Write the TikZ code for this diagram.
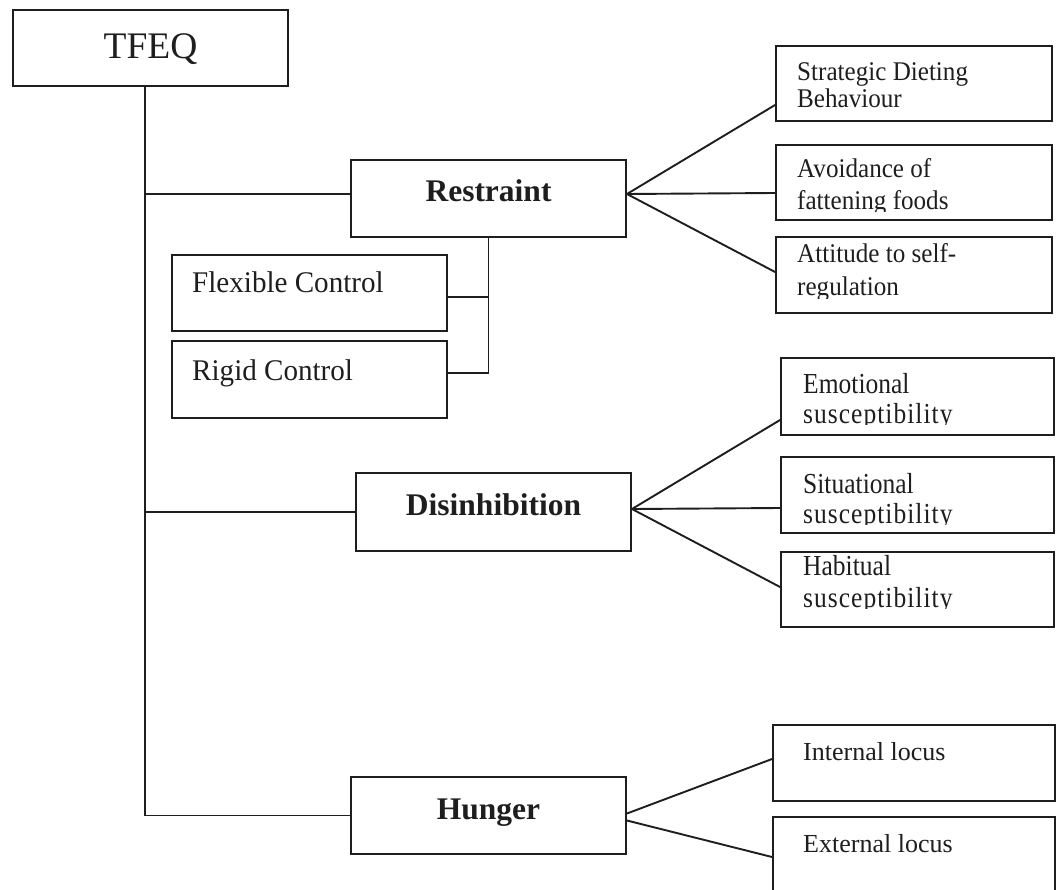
\documentclass[tikz,border=0pt]{standalone}
\usepackage{fontspec}
\setmainfont{Liberation Serif}
\newfontfamily\condA[FakeStretch=0.88]{Liberation Serif}
\newfontfamily\condS[FakeStretch=0.88,LetterSpace=3.5]{Liberation Serif}
\newfontfamily\condC[FakeStretch=0.93]{Liberation Serif}
\newfontfamily\condB[FakeStretch=0.97]{Liberation Serif}
\definecolor{ink}{HTML}{1E1E1E}
\begin{document}
\begin{tikzpicture}[x=1pt, y=-1pt,
  box/.style={draw=ink, line width=1.9pt, inner sep=0pt},
  conn/.style={draw=ink, line width=1.9pt},
  bl/.style={box, font=\fontsize{31.5}{36}\selectfont\bfseries, text=ink, text height=21pt, text depth=14pt},
  lbl/.style={anchor=base west, inner sep=0pt, text=ink},
  ra/.style={lbl, font=\condC\fontsize{27}{28}\selectfont},
  re/.style={lbl, font=\condA\fontsize{29}{30}\selectfont},
  rs/.style={lbl, font=\condS\fontsize{29}{30}\selectfont},
  rf/.style={lbl, font=\condB\fontsize{30}{31}\selectfont},
  rh/.style={lbl, font=\fontsize{26}{28}\selectfont}
]
\useasboundingbox (0,0) rectangle (1056,890);
\clip (0,0) rectangle (1056,890);

% main boxes
\node[box, minimum width=275pt, minimum height=76pt,
      font=\fontsize{37.5}{40}\selectfont, text=ink, text height=25pt, text depth=4pt]
      (T) at (150.5,48) {TFEQ};
\node[bl, minimum width=275pt, minimum height=77pt] (R) at (488.5,198.5) {Restraint};
\node[bl, minimum width=275pt, minimum height=78pt] (D) at (493.5,512) {Disinhibition};
\node[bl, minimum width=275pt, minimum height=77pt] (H) at (488.5,815.5) {Hunger};

% control boxes
\node[box, minimum width=275pt, minimum height=76pt] (F) at (309.5,293) {};
\node[box, minimum width=275pt, minimum height=77pt] (Rg) at (309.5,379.5) {};
\node[rf] (Ft) at (192,293) {Flexible Control};
\node[rf] (Rgt) at (192,380) {Rigid Control};

% restraint sub-boxes
\node[box, minimum width=276pt, minimum height=75pt] (S1) at (914,83.5) {};
\node[box, minimum width=276pt, minimum height=75pt] (S2) at (914,182.5) {};
\node[box, minimum width=276pt, minimum height=76pt] (S3) at (914,275) {};
\node[ra] (S1a) at (797,81) {Strategic Dieting};
\node[ra] (S1b) at (797,108) {Behaviour};
\begin{scope}
  \clip (S2.north west) rectangle ([yshift=9pt]S2.south east);
  \node[ra] (S2a) at (797,178) {Avoidance of};
  \node[ra] (S2b) at (797,210) {fattening foods};
\end{scope}
\begin{scope}
  \clip (S3.north west) rectangle ([yshift=15pt]S3.south east);
  \node[ra] (S3a) at (797,263) {Attitude to self-};
  \node[ra] (S3b) at (797,295) {regulation};
\end{scope}

% disinhibition sub-boxes
\node[box, minimum width=273pt, minimum height=77pt] (E1) at (917.5,396.5) {};
\node[box, minimum width=273pt, minimum height=76pt] (E2) at (917.5,495) {};
\node[box, minimum width=273pt, minimum height=75pt] (E3) at (917.5,589.5) {};
\begin{scope}
  \clip (E1.north west) rectangle ([yshift=11pt]E1.south east);
  \node[re] (E1a) at (803,393) {Emotional};
  \node[rs] (E1b) at (803,423) {susceptibility};
\end{scope}
\begin{scope}
  \clip (E2.north west) rectangle ([yshift=9pt]E2.south east);
  \node[re] (E2a) at (803,493) {Situational};
  \node[rs] (E2b) at (803,523) {susceptibility};
\end{scope}
\begin{scope}
  \clip (E3.north west) rectangle ([yshift=19pt]E3.south east);
  \node[re] (E3a) at (803,575) {Habitual};
  \node[rs] (E3b) at (803,607) {susceptibility};
\end{scope}

% hunger sub-boxes
\node[box, minimum width=282pt, minimum height=76pt] (H1) at (914,763) {};
\node[box, minimum width=282pt, minimum height=78pt] (H2) at (914,856) {};
\node[rh] (H1a) at (803,760) {Internal locus};
\node[rh] (H2a) at (803,852) {External locus};

% trunk and branches
\coordinate (tk) at ([xshift=-5.5pt]T.south);
\draw[conn] (tk) |- (H.west);
\draw[conn] ([yshift=4.5pt]R.west) -- ([yshift=4.5pt]R.west -| tk);
\draw[conn] (D.west) -- (D.west -| tk);

% control bracket
\draw[conn] (R.south) |- ([yshift=6.5pt]Rg.east);
\draw[conn] ([yshift=-4pt]F.east) -| (R.south);

% fans
\draw[conn] ([yshift=4.5pt]R.east) -- ([yshift=-21.5pt]S1.west);
\draw[conn] ([yshift=4.5pt]R.east) -- ([yshift=-10.5pt]S2.west);
\draw[conn] ([yshift=4.5pt]R.east) -- ([yshift=3pt]S3.west);
\draw[conn] ([yshift=3pt]D.east) -- ([yshift=-23.5pt]E1.west);
\draw[conn] ([yshift=3pt]D.east) -- ([yshift=-13pt]E2.west);
\draw[conn] ([yshift=3pt]D.east) -- ([yshift=2.5pt]E3.west);
\draw[conn] ([yshift=2pt]H.east) -- ([yshift=4pt]H1.west);
\draw[conn] ([yshift=-5pt]H.east) -- ([yshift=-1pt]H2.west);
\end{tikzpicture}
\end{document}
